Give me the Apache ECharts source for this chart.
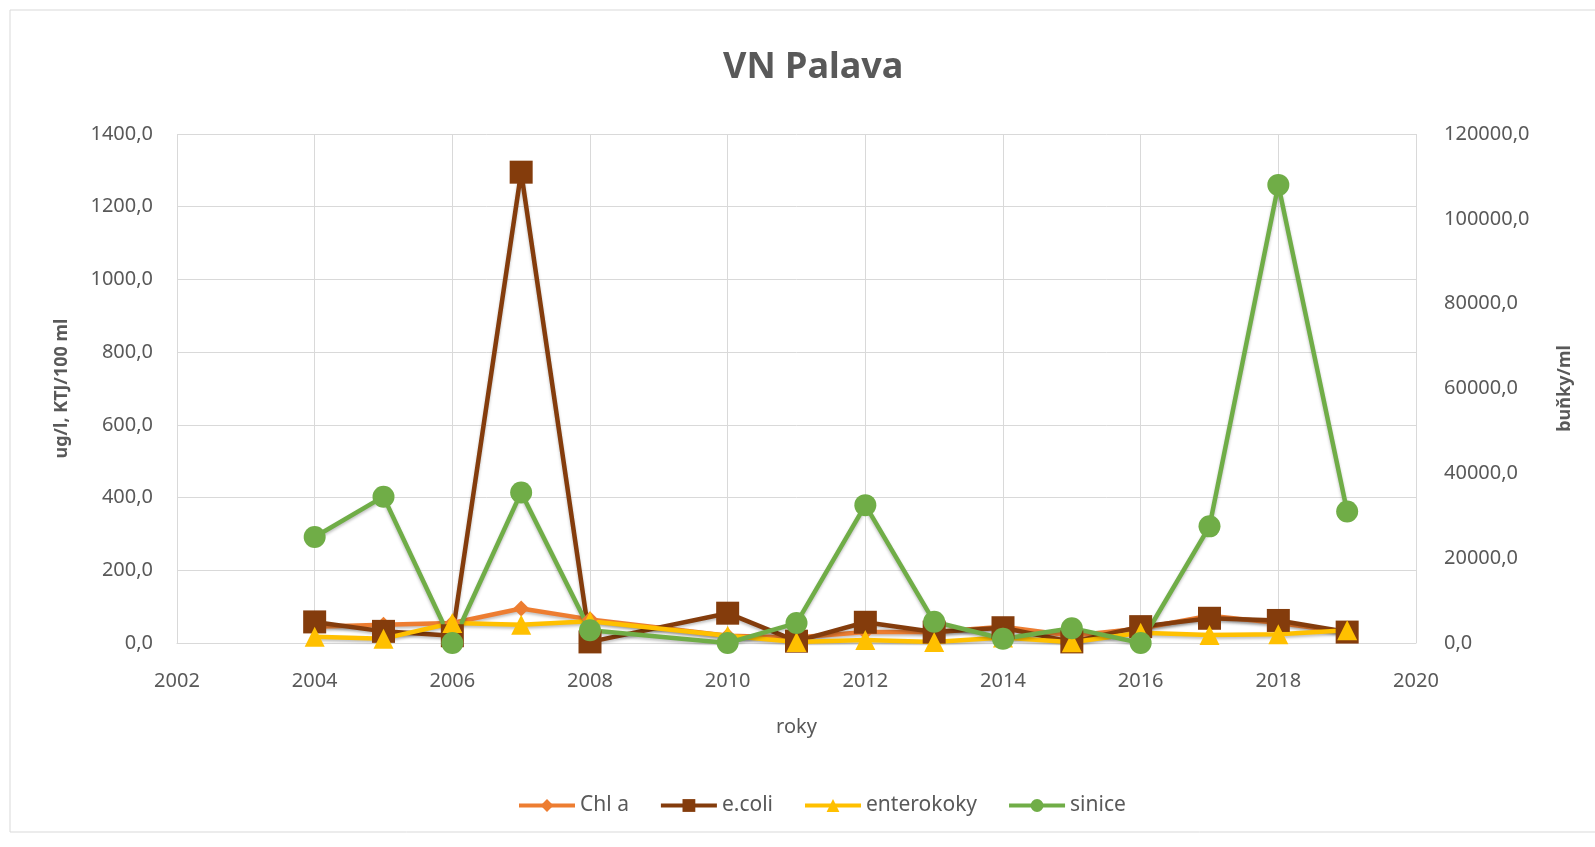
<!DOCTYPE html>
<html lang="cs">
  <head>
    <meta charset="UTF-8" />
    <title>VN Palava</title>
    <script src="https://cdn.jsdelivr.net/npm/echarts@6/dist/echarts.min.js"></script>
    <style>
      html, body { margin: 0; padding: 0; background: #fff; }
      #main { width: 1595px; height: 847px; }
    </style>
  </head>
  <body>
    <div id="main"></div>

    <script>
      // years with measurements (2009 is missing in the source)
      const years = [2004, 2005, 2006, 2007, 2008, 2010, 2011, 2012, 2013, 2014, 2015, 2016, 2017, 2018, 2019];
      const chlA = [45, 50, 55, 95, 65, 20, 15, 30, 30, 45, 20, 40, 75, 55, 30];
      const ecoli = [58, 32, 20, 1295, 3, 82, 5, 57, 30, 42, 3, 45, 68, 62, 30];
      const enterokoky = [17, 12, 55, 50, 60, 20, 3, 8, 3, 15, 2, 28, 22, 24, 35];
      const sinice = [25000, 34500, 0, 35500, 3000, 0, 4700, 32500, 5000, 1000, 3500, 0, 27500, 108000, 31000];

      const FONT = 'Noto Sans';
      const GREY = '#595959';

      const pairs = (vals) => years.map((y, i) => [y, vals[i]]);
      const fmt = (v) => v.toFixed(1).replace('.', ',');

      function lineSeries(name, vals, color, symbol, size, axis) {
        return {
          name: name,
          type: 'line',
          yAxisIndex: axis,
          data: pairs(vals),
          symbol: symbol,
          symbolSize: size,
          itemStyle: { color: color },
          lineStyle: {
            color: color,
            width: 4.5,
            shadowColor: 'rgba(0,0,0,0.25)',
            shadowBlur: 3,
            shadowOffsetY: 2,
          },
        };
      }

      const options = {
        backgroundColor: '#fff',
        animation: false,
        textStyle: { fontFamily: FONT },
        graphic: [
          {
            type: 'rect',
            shape: { x: 10, y: 10, width: 1600, height: 822 },
            style: { fill: 'none', stroke: '#D9D9D9', lineWidth: 1 },
            silent: true,
          },
        ],
        title: {
          text: 'VN Palava',
          left: 718,
          top: 45,
          textStyle: { fontFamily: FONT, fontSize: 36, fontWeight: 'bold', color: GREY },
        },
        legend: {
          bottom: 26,
          left: 512,
          itemWidth: 56,
          itemHeight: 16,
          itemGap: 30,
          lineStyle: { width: 4 },
          textStyle: { fontFamily: FONT, fontSize: 21, color: GREY },
          data: ['Chl a', 'e.coli', 'enterokoky', 'sinice'],
        },
        grid: { left: 177, right: 179, top: 134, bottom: 204 },
        xAxis: {
          type: 'value',
          min: 2002,
          max: 2020,
          interval: 2,
          name: 'roky',
          nameLocation: 'middle',
          nameGap: 74,
          nameTextStyle: { fontFamily: FONT, fontSize: 20, color: GREY },
          axisLine: { show: true, lineStyle: { color: '#D9D9D9' } },
          axisTick: { show: false },
          axisLabel: { fontFamily: FONT, fontSize: 20, color: GREY, margin: 28, formatter: (v) => String(v) },
          splitLine: { show: true, lineStyle: { color: '#D9D9D9' } },
        },
        yAxis: [
          {
            type: 'value',
            min: 0,
            max: 1400,
            interval: 200,
            name: 'ug/l, KTJ/100 ml',
            nameLocation: 'middle',
            nameGap: 106,
            nameTextStyle: { fontFamily: FONT, fontSize: 18, fontWeight: 'bold', color: GREY },
            axisLine: { show: false },
            axisTick: { show: false },
            axisLabel: { fontFamily: FONT, fontSize: 20, color: GREY, margin: 24, formatter: fmt },
            splitLine: { show: true, lineStyle: { color: '#D9D9D9' } },
          },
          {
            type: 'value',
            min: 0,
            max: 120000,
            interval: 20000,
            name: 'buňky/ml',
            nameLocation: 'middle',
            nameGap: 140,
            nameTextStyle: { fontFamily: FONT, fontSize: 18, fontWeight: 'bold', color: GREY },
            axisLine: { show: false },
            axisTick: { show: false },
            axisLabel: { fontFamily: FONT, fontSize: 20, color: GREY, margin: 28, formatter: fmt },
            splitLine: { show: false },
          },
        ],
        series: [
          lineSeries('Chl a', chlA, '#ED7D31', 'diamond', 16, 0),
          lineSeries('e.coli', ecoli, '#843C0C', 'rect', 23, 0),
          lineSeries('enterokoky', enterokoky, '#FFC000', 'triangle', 20, 0),
          lineSeries('sinice', sinice, '#70AD47', 'circle', 22, 1),
        ],
      };

      const myChart = echarts.init(document.querySelector('#main'));
      myChart.setOption(options);
    </script>
  </body>
</html>
